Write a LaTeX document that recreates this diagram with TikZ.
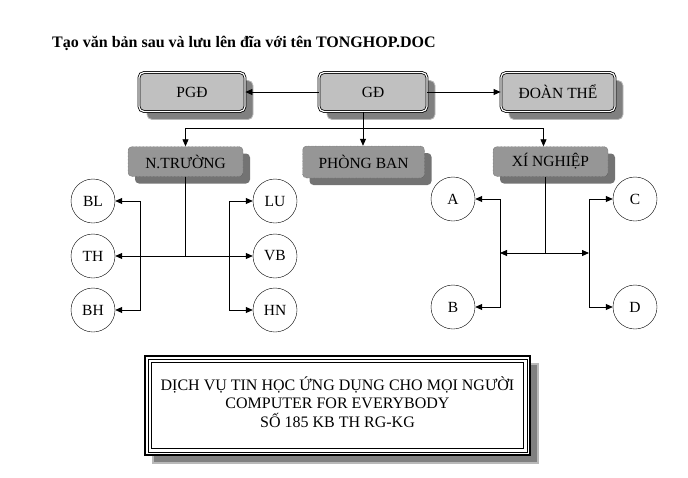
\documentclass[tikz,border=0pt]{standalone}
\usepackage{fontspec}
\setmainfont{Liberation Serif}
\usetikzlibrary{arrows.meta,shadows}
\definecolor{boxgray}{RGB}{192,192,192}
\definecolor{unitgray}{RGB}{150,150,150}
\definecolor{shadegray}{RGB}{128,128,128}

\begin{document}
\begin{tikzpicture}[x=1pt, y=-1pt,
    headbox/.style={draw, double=white, double distance=1.2pt, line width=0.8pt, rounded corners=5pt,
      fill=boxgray, inner sep=0pt, minimum height=39pt, font=\fontsize{15.5}{18}\selectfont,
      general shadow={fill=shadegray, draw=gray!55, shadow xshift=8pt, shadow yshift=-8pt}},
    unitbox/.style={draw=black!75, densely dotted, rounded corners=4pt, fill=unitgray, inner sep=0pt,
      minimum height=30pt, font=\fontsize{15.5}{18}\selectfont,
      general shadow={fill=shadegray!90!black, shadow xshift=7pt, shadow yshift=-7pt}},
    member/.style={draw, circle, minimum size=44pt, inner sep=0pt, font=\fontsize{15.5}{18}\selectfont},
    link/.style={line width=0.8pt, -{Triangle[length=7pt,width=6pt]}},
    plain/.style={line width=0.8pt}]
    \useasboundingbox (0,0) rectangle (688,477);
    \node[anchor=west, inner sep=0pt, font=\fontsize{16}{19}\bfseries] (title) at (52,43) {Tạo văn bản sau và lưu lên đĩa với tên TONGHOP.DOC};
    \node[headbox, minimum width=106pt] (PGD) at (192,92) {PGĐ};
    \node[headbox, minimum width=108pt] (GD) at (373,92) {GĐ};
    \node[headbox, minimum width=114pt] (DT) at (558,92) {ĐOÀN THỂ};
    \node[unitbox, minimum width=115pt] (NTR) at (185.5,161.5) {N.TRƯỜNG};
    \node[unitbox, minimum width=122pt, minimum height=32pt] (PB) at (363.5,162) {PHÒNG BAN};
    \node[unitbox, minimum width=115pt] (XN) at (550.5,161.5) {XÍ NGHIỆP};
    \node[member] (BL) at (93,201) {BL};
    \node[member] (TH) at (93,256) {TH};
    \node[member] (BH) at (93,310) {BH};
    \node[member] (LU) at (275,201) {LU};
    \node[member] (VB) at (275,256) {VB};
    \node[member] (HN) at (275,310) {HN};
    \node[member] (A) at (453,199) {A};
    \node[member] (B) at (453,307) {B};
    \node[member] (C) at (635,199) {C};
    \node[member] (D) at (635,307) {D};
    \draw[link] (GD) -- (PGD);
    \draw[link] (GD) -- (DT);
    \coordinate (hub) at (363,128);
    \draw[plain] (GD.south -| hub) -- (hub);
    \draw[link] (hub) -- (PB.north -| hub);
    \draw[link] (hub) -| (NTR.north);
    \draw[link] (hub) -| ([xshift=-7pt]XN.north);
    \coordinate (ntrjoin) at (NTR.south |- TH);
    \coordinate (lv) at (140,256);
    \coordinate (rv) at (229,256);
    \draw[plain] (NTR.south) -- (ntrjoin);
    \draw[link] (ntrjoin) -- (TH);
    \draw[link] (ntrjoin) -- (VB);
    \draw[link] (lv) |- (BL);
    \draw[link] (lv) |- (BH);
    \draw[link] (rv) |- (LU);
    \draw[link] (rv) |- (HN);
    \coordinate (xjoin) at (545.5,253);
    \coordinate (av) at (500,253);
    \coordinate (cv) at (589,253);
    \draw[plain] (XN.south -| xjoin) -- (xjoin);
    \draw[link] (xjoin) -- (av);
    \draw[link] (xjoin) -- (cv);
    \draw[link] (av) |- (A);
    \draw[link] (av) |- (B);
    \draw[link] (cv) |- (C);
    \draw[link] (cv) |- (D);
    \node[draw, line width=2pt, fill=white, minimum width=385pt, minimum height=99pt,
      general shadow={fill=shadegray, draw=gray!55, shadow xshift=8pt, shadow yshift=-8pt}] (slogan) at (337.5,405.5) {};
    \draw[line width=0.8pt] ([shift={(4,4)}]slogan.north west) rectangle ([shift={(-4,-4)}]slogan.south east);
    \draw[line width=0.8pt] ([shift={(7.5,7.5)}]slogan.north west) rectangle ([shift={(-7.5,-7.5)}]slogan.south east);
    \node[align=center, font=\fontsize{16}{18.5}\selectfont] (slogantext) at (337.5,402)
      {DỊCH VỤ TIN HỌC ỨNG DỤNG CHO MỌI NGƯỜI\\COMPUTER FOR EVERYBODY\\SỐ 185 KB TH RG-KG};
\end{tikzpicture}
\end{document}
